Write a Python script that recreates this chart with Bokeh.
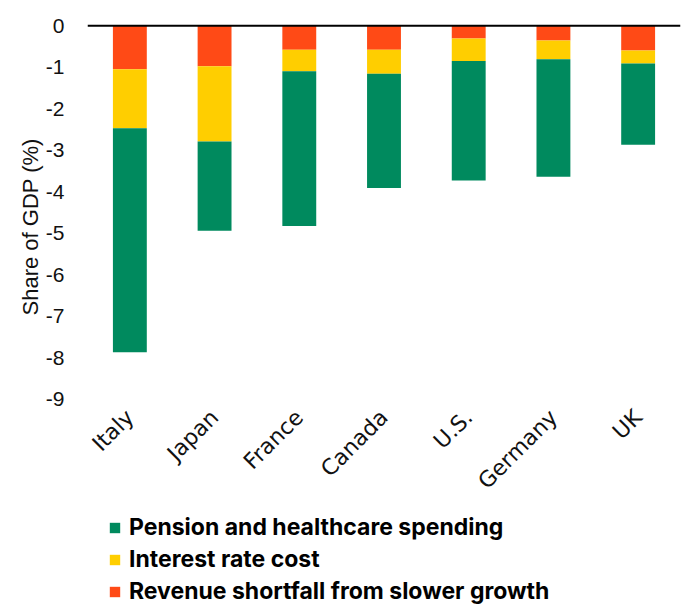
import math
from bokeh.plotting import figure
from bokeh.layouts import column
from bokeh.models import Range1d, FactorRange, Span, Legend, LegendItem, Title, ColumnDataSource
from bokeh.embed import file_html
from bokeh.resources import INLINE

countries = ["Italy", "Japan", "France", "Canada", "U.S.", "Germany", "UK"]
revenue_shortfall = [-1.05, -0.98, -0.58, -0.58, -0.31, -0.36, -0.60]
interest_cost = [-1.42, -1.81, -0.52, -0.58, -0.54, -0.45, -0.31]
pension_health = [-5.40, -2.15, -3.73, -2.75, -2.88, -2.83, -1.96]
y_ticks = [0, -1, -2, -3, -4, -5, -6, -7, -8, -9]

series_names = ["Pension and healthcare spending", "Interest rate cost",
                "Revenue shortfall from slower growth"]
colors = {"pension": "#008A5E", "interest": "#FFCE00", "revenue": "#FF4A16"}

source = ColumnDataSource(dict(country=countries, revenue=revenue_shortfall,
                               interest=interest_cost, pension=pension_health))
stack_cols = ["revenue", "interest", "pension"]
stack_colors = [colors["revenue"], colors["interest"], colors["pension"]]

xr = FactorRange(*countries, range_padding=0)

p = figure(x_range=xr, y_range=Range1d(-9.2, 0.1),
           frame_width=593, frame_height=386,
           min_border_left=87, min_border_right=6, min_border_top=21,
           min_border_bottom=93,
           output_backend="svg", toolbar_location=None,
           background_fill_color="white", border_fill_color="white")

rs = p.vbar_stack(stack_cols, x="country", width=0.4, color=stack_colors,
                  line_color=None, source=source)

p.add_layout(Span(location=0, dimension="width", line_color="black", line_width=2))

p.grid.visible = False
p.outline_line_color = None

yax = p.yaxis[0]
yax.ticker = y_ticks
yax.major_label_overrides = {t: str(t) for t in y_ticks}
yax.axis_line_color = None
yax.major_tick_line_color = None
yax.major_tick_out = 0
yax.minor_tick_line_color = None
yax.major_label_standoff = 23
yax.major_label_text_font = "Liberation Sans"
yax.major_label_text_font_size = "21px"
yax.major_label_text_color = "#111111"

ytitle = Title(text="Share of  GDP (%)", align="left", offset=92,
               text_font="Liberation Sans", text_font_size="22px",
               text_font_style="normal", text_color="#111111", standoff=0)
p.add_layout(ytitle, "left")

xax = p.xaxis[0]
xax.axis_line_color = None
xax.major_tick_line_color = None
xax.major_tick_out = 0
xax.minor_tick_line_color = None
xax.major_label_orientation = math.pi / 4
xax.major_label_standoff = 6
xax.major_label_text_font = "DejaVu Sans"
xax.major_label_text_font_size = "22px"
xax.major_label_text_color = "#111111"

# legend strip below the chart (its swatch renderers lie outside its visible range)
lf = figure(x_range=xr, y_range=Range1d(1, 2),
            frame_width=686, frame_height=100,
            min_border_left=0, min_border_right=0, min_border_top=0, min_border_bottom=0,
            x_axis_location=None, y_axis_location=None,
            output_backend="svg", toolbar_location=None,
            background_fill_color="white", border_fill_color="white")
lf.grid.visible = False
lf.outline_line_color = None
lrs = lf.vbar_stack(stack_cols, x="country", width=0.4, color=stack_colors,
                    line_color=None, source=source)

legend = Legend(items=[
    LegendItem(label=series_names[0], renderers=[lrs[2]]),
    LegendItem(label=series_names[1], renderers=[lrs[1]]),
    LegendItem(label=series_names[2], renderers=[lrs[0]]),
], location=(108, 0), orientation="vertical")
legend.glyph_width = 13
legend.glyph_height = 13
legend.label_height = 28
legend.label_text_font = "Inter"
legend.label_text_font_style = "bold"
legend.label_text_font_size = "23px"
legend.label_text_color = "black"
legend.label_standoff = 8
legend.spacing = 4
legend.padding = 2
legend.margin = 0
legend.border_line_color = None
legend.background_fill_alpha = 0
lf.add_layout(legend, "center")

layout = column(p, lf, spacing=0)
open("out.html", "w").write(file_html(layout, INLINE))
